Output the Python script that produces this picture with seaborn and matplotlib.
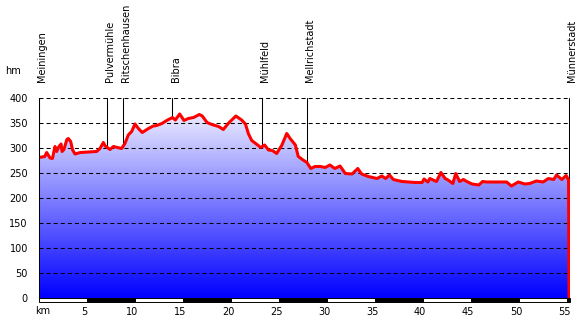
import matplotlib
matplotlib.use("Agg")
import matplotlib.pyplot as plt
import matplotlib.transforms as mtransforms
from matplotlib.colors import LinearSegmentedColormap
import numpy as np
import pandas as pd
import seaborn as sns

# profile (km, elevation in m)
km = [0, 0.6, 0.8, 1.15, 1.4, 1.67, 1.84, 2.08, 2.3, 2.4, 2.6, 2.9, 3.05, 3.3, 3.5, 3.75,
      4.3, 6.0, 6.35, 6.7, 6.9, 7.4, 7.75, 8.6, 8.95, 9.3, 9.65, 10.0, 10.35, 10.75, 11.4,
      11.9, 12.25, 12.8, 13.3, 13.9, 14.2, 14.65, 15.1, 15.55, 16.1, 16.7, 17.0, 17.5, 18.0,
      18.7, 19.2, 19.7, 20.5, 21.1, 21.5, 21.8, 22.15, 22.7, 23.1, 23.5, 23.9, 24.3, 24.75,
      25.3, 25.8, 26.15, 26.7, 27.0, 27.5, 27.9, 28.3, 28.75, 29.3, 29.8, 30.3, 30.8, 31.35,
      31.9, 32.6, 33.2, 33.6, 34.3, 35.2, 35.7, 36.1, 36.5, 36.9, 37.8, 39.2, 39.9, 40.1,
      40.5, 40.7, 41.4, 41.85, 42.3, 42.6, 43.1, 43.4, 43.8, 44.2, 44.55, 45.1, 45.8, 46.2,
      46.6, 48.7, 49.2, 49.9, 50.6, 51.1, 51.8, 52.5, 53.05, 53.6, 53.9, 54.45, 54.9, 55.15,
      55.2]
elev = [281, 283, 291, 280, 279, 303, 293, 303, 308, 293, 297, 317, 319, 313, 296, 288,
        291, 293, 299, 311, 304, 297, 303, 299, 309, 326, 333, 348, 339, 331, 339,
        344, 345, 349, 355, 361, 356, 368, 355, 359, 361, 367, 364, 351, 347,
        343, 337, 349, 364, 356, 348, 329, 315, 307, 301, 306, 296, 295, 289,
        306, 329, 319, 306, 283, 276, 271, 259, 263, 263, 261, 266, 259, 264,
        249, 248, 259, 248, 243, 239, 244, 239, 246, 237, 233, 231, 231, 238,
        232, 239, 233, 251, 239, 236, 229, 249, 233, 237, 233, 228, 226, 233,
        232, 232, 224, 232, 228, 229, 234, 232, 239, 237, 246, 237, 245, 236,
        0]

places = ["Meiningen", "Pulvermühle", "Ritschenhausen", "Bibra", "Mühlfeld",
          "Mellrichstadt", "Münnerstadt"]
place_km = [0, 7.1, 8.7, 13.9, 23.2, 27.9, 55.2]

y_ticks = [0, 50, 100, 150, 200, 250, 300, 350, 400]
x_ticks = [5, 10, 15, 20, 25, 30, 35, 40, 45, 50, 55]
bar_starts = [0, 5, 10, 15, 20, 25, 30, 35, 40, 45, 50, 55]
bar_widths = [5, 5, 5, 5, 5, 5, 5, 5, 5, 5, 5, 0.3]

XMAX = 55.3
YMAX = 400

df = pd.DataFrame({"km": km, "elev": elev})

sns.set_style("white")
plt.rcParams["font.family"] = ["DejaVu Sans"]
plt.rcParams["font.size"] = 7
plt.rcParams["text.color"] = "black"
plt.rcParams["xtick.color"] = "black"
plt.rcParams["ytick.color"] = "black"
plt.rcParams["lines.scale_dashes"] = False

fig = plt.figure(figsize=(5.84, 3.24), dpi=100)
ax = fig.add_axes([39 / 584, 26 / 324, 531 / 584, 200 / 324])

# gradient fill under the profile
fill = ax.fill_between(df["km"], df["elev"], 0, color="none", lw=0)
cmap = LinearSegmentedColormap.from_list("bw", ["#0000ff", "#ffffff"])
grad = np.linspace(0, 1, 256).reshape(-1, 1)
img = ax.imshow(grad, cmap=cmap, origin="lower", aspect="auto",
                extent=(0, XMAX, 0, YMAX), zorder=1)
img.set_clip_path(fill.get_paths()[0], transform=ax.transData)

for yv in y_ticks[1:]:
    ax.axhline(yv, color="black", lw=0.75, ls=(0, (2.9, 2.2)), zorder=2)

# place markers
for name, pk in zip(places, place_km):
    base = np.interp(pk, km[:-1], elev[:-1])
    ax.plot([pk, pk], [YMAX, base], color="black", lw=0.75, zorder=2)
    ax.annotate(name, xy=(pk, YMAX), xytext=(2.2, 11.5), textcoords="offset points",
                rotation=90, ha="center", va="bottom", fontsize=7, color="black",
                annotation_clip=False)

sns.lineplot(data=df, x="km", y="elev", color="#ff0000", linewidth=2.2,
             sort=False, estimator=None, ax=ax, zorder=3)

# km scale bar below the axis
bar_colors = ["white" if i % 2 == 0 else "black" for i in range(len(bar_starts))]
ax.bar(bar_starts, -8, width=bar_widths, bottom=0, align="edge", color=bar_colors,
       edgecolor="black", linewidth=0.7, clip_on=False, zorder=4)

ax.set_xlim(0, XMAX)
ax.set_ylim(0, YMAX)
ax.set_xlabel("")
ax.set_ylabel("")
ax.set_yticks(y_ticks)
ax.set_xticks(x_ticks)
ax.tick_params(axis="y", length=0, pad=8, labelsize=7, labelcolor="black")
ax.tick_params(axis="x", length=0, pad=6.5, labelsize=7, labelcolor="black")
shift = mtransforms.ScaledTranslation(-3 / 100, 0, fig.dpi_scale_trans)
for lab in ax.get_xticklabels():
    lab.set_transform(lab.get_transform() + shift)

for side in ["top", "right", "bottom"]:
    ax.spines[side].set_visible(False)
ax.spines["left"].set_color("black")
ax.spines["left"].set_linewidth(0.75)
ax.spines["left"].set_zorder(5)

ax.annotate("km", xy=(0, 0), xycoords="axes fraction", xytext=(2.5, -9.5),
            textcoords="offset points", ha="center", va="center", fontsize=7)
ax.annotate("hm", xy=(0, 1), xycoords="axes fraction", xytext=(-19, 19.5),
            textcoords="offset points", ha="center", va="center", fontsize=7)

fig.savefig("out.png", dpi=100, facecolor="white")
